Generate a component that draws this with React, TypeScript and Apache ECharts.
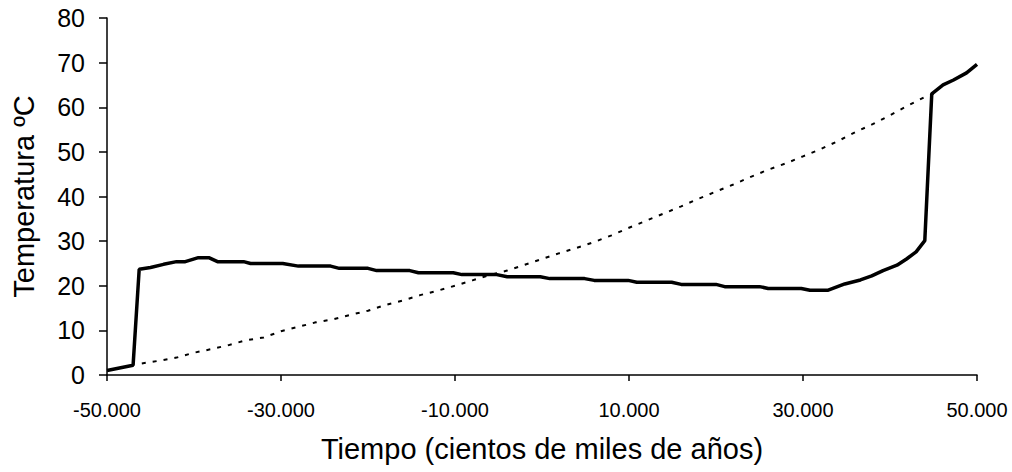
import React, { useEffect, useRef } from "react";
import * as echarts from "echarts";

const xTickValues = [-50000, -30000, -10000, 10000, 30000, 50000];
const yTickValues = [0, 10, 20, 30, 40, 50, 60, 70, 80];

const solidX = [
  -50000, -47000, -46300, -45000, -43500, -42000, -41000, -39500, -38300, -37300,
  -34300, -33500, -29800, -28000, -24300, -23300, -20000, -19000, -15200, -14200,
  -10200, -9200, -5200, -4000, -200, 900, 4900, 6000, 9900, 10900,
  14900, 16000, 20000, 21000, 25000, 26000, 29800, 30800, 32900, 34800,
  36600, 37900, 39200, 40800, 41900, 43000, 44000, 44800, 46100, 47300,
  48800, 50000,
];
const solidY = [
  1.0, 2.2, 23.7, 24.1, 24.8, 25.4, 25.4, 26.3, 26.3, 25.4,
  25.4, 25.0, 25.0, 24.4, 24.4, 23.9, 23.9, 23.4, 23.4, 22.9,
  22.9, 22.5, 22.5, 22.0, 22.0, 21.6, 21.6, 21.2, 21.2, 20.8,
  20.8, 20.3, 20.3, 19.8, 19.8, 19.4, 19.4, 19.0, 19.0, 20.4,
  21.3, 22.2, 23.4, 24.6, 26.0, 27.6, 30.1, 63.0, 65.0, 66.1,
  67.7, 69.6,
];

const dottedX = [
  -46000, -44000, -42000, -40000, -38000, -36000, -34000, -32000, -30000, -28000,
  -26000, -24000, -22000, -20000, -18000, -16000, -14000, -12000, -10000, -8000,
  -6000, -4000, -2000, 0, 2000, 4000, 6000, 8000, 10000, 12000,
  14000, 16000, 18000, 20000, 22000, 24000, 26000, 28000, 30000, 32000,
  34000, 36000, 38000, 40000, 42000, 44000, 45000,
];
const dottedY = [
  2.6, 3.2, 3.9, 5.0, 5.8, 6.7, 7.8, 8.4, 9.8, 10.8,
  11.8, 12.5, 13.5, 14.4, 15.7, 16.7, 17.9, 18.9, 20.0, 21.2,
  22.4, 23.4, 24.7, 26.0, 27.3, 28.5, 29.8, 31.3, 33.0, 34.6,
  36.2, 37.8, 39.5, 41.1, 42.7, 44.4, 46.0, 47.4, 49.0, 50.6,
  52.4, 54.4, 56.2, 58.2, 60.3, 62.3, 63.0,
];

const xName = "Tiempo (cientos de miles de años)";
const yName = "Temperatura ºC";

function fmtThousands(v: number): string {
  const neg = v < 0;
  const s = Math.abs(Math.round(v)).toString();
  const parts: string[] = [];
  for (let i = s.length; i > 0; i -= 3) {
    parts.unshift(s.substring(Math.max(0, i - 3), i));
  }
  return (neg ? "-" : "") + parts.join(".");
}

const FONT = "'Liberation Sans', Arial, sans-serif";

export default function App() {
  const ref = useRef<HTMLDivElement>(null);
  useEffect(() => {
    if (!ref.current) return;
    const chart = echarts.init(ref.current, null, { renderer: "svg" });
    chart.setOption({
      animation: false,
      backgroundColor: "#ffffff",
      grid: { left: 107, right: 35, top: 18, bottom: 97, containLabel: false },
      xAxis: {
        type: "value",
        min: -50000,
        max: 50000,
        name: xName,
        nameLocation: "middle",
        nameGap: 59,
        nameTextStyle: { fontFamily: FONT, fontSize: 29, color: "#000" },
        axisLine: { show: true, onZero: false, lineStyle: { color: "#000", width: 1.5 } },
        axisTick: {
          show: true,
          length: 6,
          customValues: xTickValues,
          lineStyle: { color: "#000", width: 1.5 },
        },
        axisLabel: {
          customValues: xTickValues,
          formatter: (v: number) => fmtThousands(v),
          fontFamily: FONT,
          fontSize: 20,
          color: "#000",
          margin: 25,
        },
        splitLine: { show: false },
      },
      yAxis: {
        type: "value",
        min: 0,
        max: 80,
        interval: 10,
        name: yName,
        nameLocation: "middle",
        nameGap: 69,
        nameTextStyle: { fontFamily: FONT, fontSize: 29, color: "#000" },
        axisLine: { show: true, onZero: false, lineStyle: { color: "#000", width: 1.5 } },
        axisTick: { show: true, length: 8, lineStyle: { color: "#000", width: 1.5 } },
        axisLabel: {
          customValues: yTickValues,
          fontFamily: FONT,
          fontSize: 25,
          color: "#000",
          margin: 22,
        },
        splitLine: { show: false },
      },
      series: [
        {
          type: "line",
          data: dottedX.map((x, i) => [x, dottedY[i]]),
          showSymbol: false,
          symbol: "none",
          lineStyle: { color: "#000", width: 2, type: [4, 7] },
          z: 2,
        },
        {
          type: "line",
          data: solidX.map((x, i) => [x, solidY[i]]),
          showSymbol: false,
          symbol: "none",
          lineStyle: { color: "#000", width: 3.5 },
          z: 3,
        },
      ],
    });
    return () => chart.dispose();
  }, []);
  return (
    <div
      ref={ref}
      style={{ position: "fixed", left: 0, top: 0, width: 1012, height: 472 }}
    />
  );
}
